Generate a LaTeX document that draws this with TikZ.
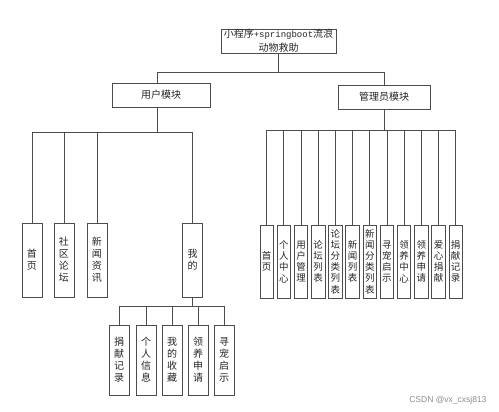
\documentclass[tikz,border=0pt]{standalone}
\usepackage{fontspec}
\setmainfont{Noto Sans CJK SC}
\setmonofont{Liberation Mono}
\newfontfamily\markfont{Liberation Sans}
\usetikzlibrary{calc}

\tikzset{
  line/.style={draw=black!70, line width=0.8pt},
  topbox/.style={line, fill=white, rectangle, inner sep=0pt, align=center, text=black!85,
    font=\fontsize{10}{14}\selectfont},
  ubox/.style={line, fill=white, rectangle, inner sep=0pt, align=center, text=black!85,
    minimum width=20pt, minimum height=74pt, font=\fontsize{10}{12}\selectfont},
  abox/.style={line, fill=white, rectangle, inner sep=0pt, align=center, text=black!85,
    minimum width=13.5pt, minimum height=73pt, font=\fontsize{9.5}{11.2}\selectfont}
}

\begin{document}
\begin{tikzpicture}[x=1pt,y=-1pt]
\useasboundingbox (0,0) rectangle (499,412);

\node[topbox, minimum width=115pt, minimum height=24pt] (root) at (278.5,41)
  {小程序{\fontsize{9}{14}\ttfamily+springboot}流浪\\动物救助};
\node[topbox, minimum width=98pt, minimum height=24pt] (user) at (161,95) {用户模块};
\node[topbox, minimum width=92pt, minimum height=24pt] (admin) at (384,97) {管理员模块};

\coordinate (topbus) at (0,72);
\coordinate (ubus) at (0,132);
\coordinate (abus) at (0,130);
\coordinate (mbus) at (0,306);
\coordinate (ujoin) at ($(user.south)+(-4,0)$);

\draw[line] (root.south) -- (root.south |- topbus);
\draw[line] ($(user.north)+(-4,0)$) -- ($(user.north |- topbus)+(-4,0)$)
  -- (admin.north |- topbus) -- (admin.north);

% user module
\foreach \i/\x/\t in {1/32/{首\\页}, 2/64/{社\\区\\论\\坛}, 3/97/{新\\闻\\资\\讯}, 4/192.5/{我\\的}}
  {
  \node[ubox] (u\i) at (\x,260) {\t};
  \draw[line] (u\i.north) -- (u\i.north |- ubus);
  }
\draw[line] (ujoin) -- (ujoin |- ubus);
\draw[line] (u1.north |- ubus) -- (u4.north |- ubus);

% my page
\foreach \i/\x/\t in {1/119/{捐\\献\\记\\录}, 2/146/{个\\人\\信\\息}, 3/172/{我\\的\\收\\藏},
    4/198/{领\\养\\申\\请}, 5/224/{寻\\宠\\启\\示}}
  {
  \node[ubox, minimum height=70pt] (m\i) at (\x,360) {\t};
  \draw[line] (m\i.north) -- (m\i.north |- mbus);
  }
\draw[line] (u4.south) -- (u4.south |- mbus);
\draw[line] (m1.north |- mbus) -- (m5.north |- mbus);

% admin module
\foreach \i/\t in {0/{首\\页}, 1/{个\\人\\中\\心}, 2/{用\\户\\管\\理}, 3/{论\\坛\\列\\表},
    4/{论\\坛\\分\\类\\列\\表}, 5/{新\\闻\\列\\表}, 6/{新\\闻\\分\\类\\列\\表},
    7/{寻\\宠\\启\\示}, 8/{领\\养\\中\\心}, 9/{领\\养\\申\\请}, 10/{爱\\心\\捐\\献}, 11/{捐\\献\\记\\录}}
  {
  \node[abox] (a\i) at (266.7+17.18*\i,261.5) {\t};
  \draw[line] (a\i.north) -- (a\i.north |- abus);
  }
\draw[line] (admin.south) -- (admin.south |- abus);
\draw[line] (a0.north |- abus) -- (a11.north |- abus);

\node[anchor=east, text=black!45, font=\markfont\fontsize{8.5}{10}\selectfont] (mark) at (490,400)
  {CSDN @vx\_cxsj813};
\end{tikzpicture}
\end{document}
